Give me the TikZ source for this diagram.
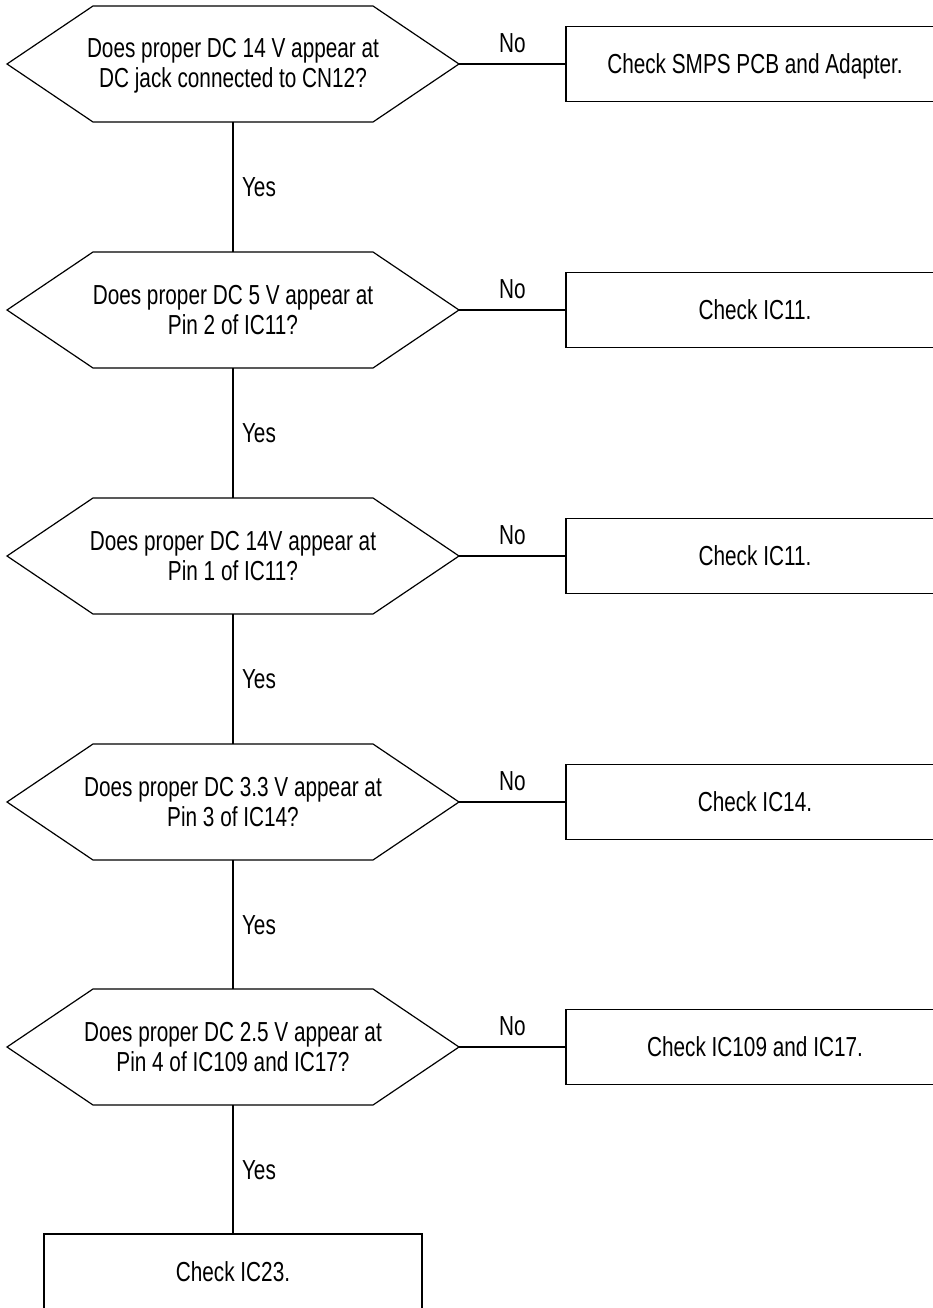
\documentclass[tikz,border=0pt]{standalone}
\usepackage{fontspec}
\setmainfont{Liberation Sans}[FakeStretch=0.755]
\newcommand\twol[2]{\vbox{\offinterlineskip\halign{\hfil##\hfil\cr\rule[-6pt]{0pt}{30pt}#1\cr\rule[-6pt]{0pt}{30pt}#2\cr}}}
\begin{document}
\begin{tikzpicture}[x=1pt,y=-1pt,
  every node/.style={font=\fontsize{27.5}{30}\selectfont, inner sep=0pt, outer sep=0pt},
  ln/.style={line width=1.2pt, draw=black},
  hexa/.style={minimum width=452pt, minimum height=116pt},
  chk/.style={ln, draw, minimum width=378pt, minimum height=75pt, text height=19pt, text depth=0pt},
  lbl/.style={text height=19pt, text depth=0pt}]
\useasboundingbox (0,0) rectangle (933,1308);
% decisions
\node[hexa] (q1) at (233,64)   {\twol{Does proper DC 14 V appear at}{DC jack connected to CN12?}};
\node[hexa] (q2) at (233,310)  {\twol{Does proper DC 5 V appear at}{Pin 2 of IC11?}};
\node[hexa] (q3) at (233,556)  {\twol{Does proper DC 14V appear at}{Pin 1 of IC11?}};
\node[hexa] (q4) at (233,802)  {\twol{Does proper DC 3.3 V appear at}{Pin 3 of IC14?}};
\node[hexa] (q5) at (233,1047) {\twol{Does proper DC 2.5 V appear at}{Pin 4 of IC109 and IC17?}};
\foreach \n in {q1,q2,q3,q4,q5}
  \draw[ln, line join=miter] (\n.west) -- ([xshift=86pt]\n.north west) -- ([xshift=-86pt]\n.north east)
    -- (\n.east) -- ([xshift=-86pt]\n.south east) -- ([xshift=86pt]\n.south west) -- cycle;
% boxes
\node[chk] (b1) at (755,64)   {Check SMPS PCB and Adapter.};
\node[chk] (b2) at (755,310)  {Check IC11.};
\node[chk] (b3) at (755,556)  {Check IC11.};
\node[chk] (b4) at (755,802)  {Check IC14.};
\node[chk] (b5) at (755,1047) {Check IC109 and IC17.};
\node[chk] (b6) at (233,1271.5) {Check IC23.};
% No connectors
\foreach \i in {1,...,5}
  \draw[ln] (q\i.east) -- (b\i.west) node[lbl, midway, anchor=south, yshift=11.5pt] (no\i) {No};
% Yes connectors
\draw[ln] (q1.south) -- (q2.north) node[lbl, midway, anchor=west, xshift=9pt] (y1) {Yes};
\draw[ln] (q2.south) -- (q3.north) node[lbl, midway, anchor=west, xshift=9pt] (y2) {Yes};
\draw[ln] (q3.south) -- (q4.north) node[lbl, midway, anchor=west, xshift=9pt] (y3) {Yes};
\draw[ln] (q4.south) -- (q5.north) node[lbl, midway, anchor=west, xshift=9pt] (y4) {Yes};
\draw[ln] (q5.south) -- (b6.north) node[lbl, midway, anchor=west, xshift=9pt] (y5) {Yes};
\end{tikzpicture}
\end{document}
